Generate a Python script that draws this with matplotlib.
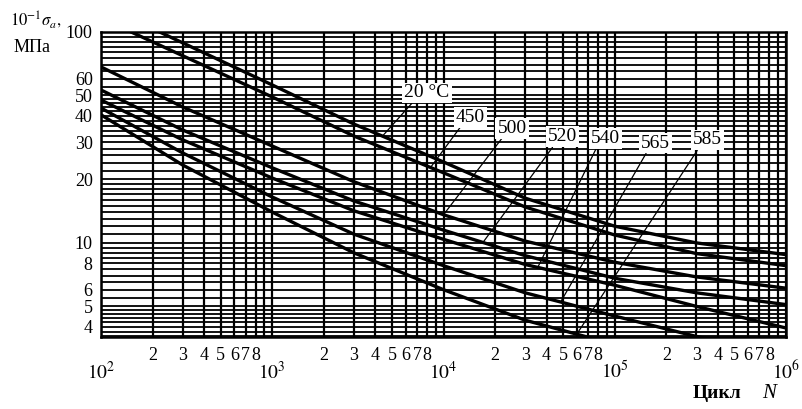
import numpy as np
import matplotlib
matplotlib.use("Agg")
import matplotlib.pyplot as plt
from matplotlib.ticker import FixedLocator, NullFormatter

plt.rcParams['font.family'] = ['Liberation Serif', 'DejaVu Serif']
plt.rcParams['mathtext.fontset'] = 'stix'

# fatigue curves, 10^-1 sigma_a (MPa) vs cycles N
temps = ['20 °C', '450', '500', '520', '540', '565', '585']
n_20 = [220, 1e3, 3e3, 1e4, 3e4, 1e5, 3e5, 1e6]
s_20 = [100, 56.1, 36.6, 24.2, 16.3, 12.0, 10.0, 8.8]
n_450 = [150, 1e3, 3e3, 1e4, 3e4, 1e5, 3e5, 1e6]
s_450 = [100, 49.2, 32.1, 21.5, 14.8, 10.9, 8.9, 7.8]
n_500 = [100, 300, 1e3, 3e3, 1e4, 3e4, 1e5, 3e5, 1e6]
s_500 = [68.3, 44.1, 28.8, 19.5, 13.6, 10.2, 8.1, 6.9, 6.1]
n_520 = [100, 300, 1e3, 3e3, 1e4, 3e4, 1e5, 3e5, 1e6]
s_520 = [53.1, 34.3, 22.7, 15.8, 11.5, 8.7, 6.8, 5.8, 5.1]
n_540 = [100, 300, 1e3, 3e3, 1e4, 3e4, 1e5, 3e5, 1e6]
s_540 = [47.6, 30.8, 20.3, 14.2, 10.4, 7.9, 6.3, 5.0, 3.95]
n_565 = [100, 300, 1e3, 3e3, 1e4, 3e4, 1e5, 3e5, 1e6]
s_565 = [43.6, 26.7, 16.5, 11.0, 7.8, 5.8, 4.5, 3.6, 2.95]
n_585 = [100, 300, 1e3, 3e3, 1e4, 3e4, 1e5]
s_585 = [40.5, 23.4, 14.0, 8.97, 6.0, 4.3, 3.3]

# where each label's leader touches its curve (cycles)
leader_n = [4400, 8400, 1e4, 17000, 35500, 48300, 60000]

y_labels = [4, 5, 6, 8, 10, 20, 30, 40, 50, 60, 100]
x_minor_labels = ['2', '3', '4', '5', '6', '7', '8', '']

series = [(n_20, s_20), (n_450, s_450), (n_500, s_500), (n_520, s_520),
          (n_540, s_540), (n_565, s_565), (n_585, s_585)]

# label box centres in axes fraction
label_pos = [(0.476, 0.80), (0.539, 0.721), (0.600, 0.685), (0.674, 0.656),
             (0.737, 0.652), (0.810, 0.636), (0.885, 0.646)]

fig = plt.figure(figsize=(8.02, 4.09), dpi=100)
ax = fig.add_axes([101 / 802, 72 / 409, 685 / 802, 305 / 409])
ax.set_xscale('log')
ax.set_yscale('log')
ax.set_xlim(1e2, 1e6)
ax.set_ylim(3.58, 100)

# log-paper grid
decades = [1e2, 1e3, 1e4, 1e5]
xmin = [d * k for d in decades for k in range(2, 10)]
ax.xaxis.set_major_locator(FixedLocator([1e2, 1e3, 1e4, 1e5, 1e6]))
ax.xaxis.set_minor_locator(FixedLocator(xmin))
ax.set_xticklabels([r'$10^{%d}$' % k for k in range(2, 7)])
ax.xaxis.set_minor_formatter(plt.FixedFormatter(x_minor_labels * 4))

ygrid = []
for d in [1, 10]:
    ygrid += list(np.arange(1, 2, 0.1) * d) + list(np.arange(2, 5, 0.2) * d) + list(np.arange(5, 10, 0.5) * d)
ygrid = [v for v in ygrid if 3.58 < v < 100]
ax.yaxis.set_major_locator(FixedLocator(y_labels))
ax.set_yticklabels([str(v) for v in y_labels])
ax.yaxis.set_minor_locator(FixedLocator(ygrid))
ax.yaxis.set_minor_formatter(NullFormatter())

ax.grid(True, axis='y', which='both', color='black', lw=1.3)
ax.grid(True, axis='x', which='both', color='black', lw=1.6)
ax.tick_params(which='both', length=0, labelsize=13)
ax.tick_params(axis='y', pad=6)
ax.tick_params(axis='x', which='minor', pad=7)
ax.tick_params(axis='x', which='major', pad=17, labelsize=14)
for sp in ax.spines.values():
    sp.set_linewidth(1.8)

for n, s in series:
    ax.plot(n, s, color='black', lw=2.4, solid_joinstyle='round')

for (n, s), t, pos, ln in zip(series, temps, label_pos, leader_n):
    sl = 10 ** np.interp(np.log10(ln), np.log10(n), np.log10(s))
    ax.annotate(t, xy=(ln, sl), xycoords='data', xytext=pos, textcoords='axes fraction',
                ha='center', va='center', fontsize=14, annotation_clip=False,
                bbox=dict(boxstyle='square,pad=0.1', fc='white', ec='none'),
                arrowprops=dict(arrowstyle='-', lw=0.9, color='black',
                                relpos=(0.2, 0.0), shrinkA=0, shrinkB=0))

fig.text(10 / 802, 1 - 20 / 409, r'$10^{-1}\sigma_{a},$', fontsize=12, va='center')
fig.text(14 / 802, 1 - 47 / 409, 'МПа', fontsize=13, va='center')
fig.text(693 / 802, 1 - 394 / 409, 'Цикл', fontsize=14, fontweight='bold', va='center')
fig.text(762 / 802, 1 - 394 / 409, 'N', fontsize=15, fontstyle='italic', va='center')

fig.savefig('out.png', dpi=100)
